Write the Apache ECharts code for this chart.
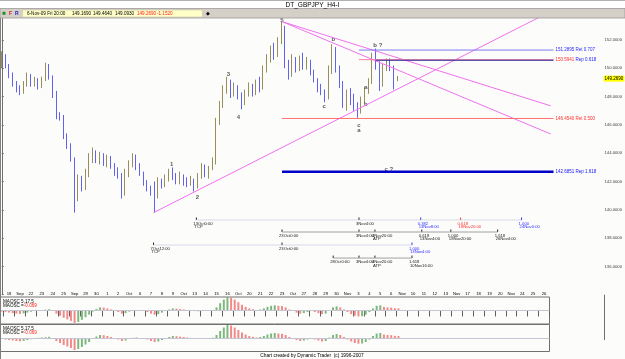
<!DOCTYPE html>
<html>
<head>
<meta charset="utf-8">
<title>DT_GBPJPY_H4-I</title>
<script src="https://cdn.jsdelivr.net/npm/echarts@6.0.0/dist/echarts.min.js"></script>
<style>
  html, body { margin: 0; padding: 0; background: #fcfdfb; }
  #chart { width: 625px; height: 359px; }
</style>
</head>
<body>
<div id="chart"></div>
<script>
// GBPJPY H4 bars (one slot = two 4h bars)
const barOpen = [
  150.3, 150.9, 150.2, 149.6, 149.0, 148.5, 148.3, 148.9, 149.4, 148.9,
  149.2, 148.8, 149.2, 150.1, 149.4, 148.3, 146.7, 146.6, 145.2, 144.5,
  143.6, 141.2, 142.0, 141.6, 142.5, 143.6, 144.0, 143.6, 143.9, 143.5,
  143.7, 143.2, 142.7, 142.5, 141.1, 142.6, 143.3, 143.7, 143.1, 142.6,
  142.0, 141.5, 141.2, 141.0, 141.9, 141.7, 142.2, 142.8, 142.4, 142.0,
  142.4, 142.0, 141.9, 142.1, 141.7, 142.4, 143.0, 142.6, 142.9, 143.3,
  146.3, 147.4, 148.5, 149.0, 148.3, 148.7, 148.1, 147.5, 148.2, 148.7,
  148.3, 148.8, 148.6, 149.9, 150.6, 151.3, 150.9, 151.9, 152.9, 150.3,
  149.5, 150.6, 150.0, 150.5, 150.2, 150.5, 149.8, 149.2, 148.6, 148.4,
  147.9, 149.8, 151.3, 150.0, 149.0, 147.6, 148.2, 147.8, 147.3, 146.9,
  147.7, 148.4, 149.0, 150.8, 150.3, 148.8, 150.0, 150.4, 150.1, 149.169
];
const barClose = [
  151.0, 150.2, 149.6, 149.0, 148.5, 148.3, 148.9, 149.4, 148.9, 149.2,
  148.8, 149.2, 150.1, 149.4, 148.3, 146.7, 146.6, 145.2, 144.5, 143.6,
  141.2, 142.0, 141.6, 142.5, 143.6, 144.0, 143.6, 143.9, 143.5, 143.7,
  143.2, 142.7, 142.5, 141.1, 142.6, 143.3, 143.7, 143.1, 142.6, 142.0,
  141.5, 141.2, 141.0, 141.9, 141.7, 142.2, 142.8, 142.4, 142.0, 142.4,
  142.0, 141.9, 142.1, 141.7, 142.4, 143.0, 142.6, 142.9, 143.3, 146.3,
  147.4, 148.5, 149.0, 148.3, 148.7, 148.1, 147.5, 148.2, 148.7, 148.3,
  148.8, 148.6, 149.9, 150.6, 151.3, 150.9, 151.9, 152.9, 150.3, 149.5,
  150.6, 150.0, 150.5, 150.2, 150.5, 149.8, 149.2, 148.6, 148.4, 147.9,
  149.8, 151.3, 150.0, 149.0, 147.6, 148.2, 147.8, 147.3, 146.9, 147.7,
  148.4, 149.0, 150.8, 150.3, 148.8, 150.0, 150.4, 150.1, 148.9, 149.269
];
const barLow = [
  150.0, 150.0, 149.3, 148.7, 148.3, 148.1, 148.2, 148.7, 148.7, 148.7,
  148.5, 148.6, 149.1, 149.2, 147.9, 146.4, 146.3, 145.0, 144.3, 143.4,
  139.8, 140.6, 141.3, 141.4, 142.3, 143.3, 143.3, 143.2, 143.1, 143.0,
  142.9, 142.4, 142.2, 140.8, 141.0, 142.3, 143.0, 142.8, 142.4, 141.7,
  141.3, 141.0, 139.8, 140.8, 141.5, 141.6, 142.0, 142.1, 141.8, 141.8,
  141.7, 141.6, 141.7, 141.3, 141.5, 142.2, 142.3, 142.2, 142.8, 143.2,
  146.0, 147.2, 148.2, 147.9, 148.0, 147.8, 147.1, 147.4, 148.0, 148.0,
  148.1, 148.3, 148.5, 149.7, 150.4, 150.6, 150.8, 151.7, 150.0, 149.2,
  149.4, 149.7, 149.8, 149.9, 149.9, 149.5, 149.0, 148.3, 148.1, 147.6,
  147.8, 149.6, 149.7, 148.6, 147.2, 147.0, 147.4, 147.0, 146.5, 146.8,
  147.5, 148.2, 148.9, 149.9, 148.4, 148.7, 149.8, 149.8, 148.5, 149.093
];
const barHigh = [
  151.2, 151.0, 150.3, 149.7, 149.1, 148.8, 149.1, 149.7, 149.6, 149.4,
  149.3, 149.4, 150.4, 150.3, 149.5, 148.4, 146.9, 146.7, 145.4, 144.7,
  143.7, 142.5, 142.4, 142.9, 144.0, 144.4, 144.2, 144.1, 144.0, 143.9,
  143.8, 143.3, 143.0, 142.6, 142.9, 143.5, 144.0, 143.9, 143.3, 142.7,
  142.1, 141.7, 142.0, 142.3, 142.2, 142.5, 142.9, 143.0, 142.6, 142.7,
  142.5, 142.3, 142.4, 142.2, 142.6, 143.3, 143.2, 143.1, 143.7, 146.5,
  147.7, 148.8, 149.4, 149.2, 149.0, 148.8, 148.3, 148.5, 149.0, 148.9,
  149.2, 149.4, 150.2, 151.0, 151.6, 151.8, 152.2, 153.3, 153.0, 150.6,
  151.0, 150.8, 150.9, 151.1, 150.8, 150.6, 149.9, 149.3, 148.9, 148.5,
  150.2, 151.7, 151.5, 150.2, 149.1, 148.5, 148.6, 148.2, 147.6, 148.0,
  148.7, 149.3, 151.1, 151.4, 150.5, 150.3, 150.7, 150.7, 150.2, 149.464
];

// MAOSC 5,17,5 histogram, same slots as the bars
const maosc = [
  -0.10, -0.15, -0.20, -0.25, -0.30, -0.33, -0.28, -0.20, -0.12, -0.05,
  0.02, 0.05, 0.08, 0.12, 0.00, -0.30, -0.50, -0.70, -0.85, -1.00,
  -1.20, -1.10, -0.90, -0.65, -0.40, -0.10, 0.15, 0.30, 0.28, 0.20,
  0.10, 0.00, -0.15, -0.30, -0.25, -0.10, 0.02, 0.05, 0.00, -0.05,
  -0.15, -0.30, -0.40, -0.35, -0.20, -0.05, 0.10, 0.20, 0.18, 0.14,
  0.10, 0.05, -0.03, -0.06, -0.08, -0.05, -0.02, 0.00, 0.03, 0.30,
  0.70, 1.05, 1.30, 1.25, 1.05, 0.80, 0.55, 0.35, 0.20, 0.12,
  0.05, 0.10, 0.20, 0.35, 0.45, 0.50, 0.45, 0.42, 0.30, 0.10,
  -0.05, -0.20, -0.30, -0.25, -0.15, -0.05, -0.15, -0.25, -0.35, -0.30,
  0.05, 0.30, 0.40, 0.30, 0.10, -0.15, -0.35, -0.50, -0.57, -0.55,
  -0.40, -0.15, 0.20, 0.45, 0.50, 0.35, 0.30, 0.28, 0.22, 0.20
];

// one label per trading day on the lower time scale
const dateLabels = [
  '18', 'Sep', '22', '23', '24', '25', 'Sep', '29', '30', '1', '2',
  'Oct', '6', '7', '8', '9', 'Oct', '13', '14', '15', '16',
  'Oct', '20', '21', '22', '23', 'Oct', '27', '28', '29', '30',
  'Nov', '3', '4', '5', '6', 'Nov', '10', '11', '12', '13',
  'Nov', '17', '18', '19', '20', 'Nov', '24', '25', '26'
];

// trend lines: [slot, price] end points
const trendLines = [
  [[41.8, 139.8], [148.8, 153.7]],
  [[77.2, 153.3], [151.2, 147.35]],
  [[77.2, 153.3], [151.2, 145.36]]
];

// retracement / reaction levels
const levelPrices = [151.2895, 150.61, 150.57, 146.454, 142.6851];
const levelFrom = [98.4, 98.4, 103, 77.2, 77.2];
const levelTo = 152;
const levelTexts = ['151.2895 Ret 0.707', '', '{r|150.5941} {b|Rep 0.618}', '146.4540 Ret 0.500', '142.6851 Rep 1.618'];

// wave count labels
const waveText = ['5', '3', '4', '1', '2', 'b', 'c', 'c', 'a', 'a', 'b', 'b ?', 'c ?'];
const waveAt = [77.2, 62.4, 65.2, 46.8, 53.9, 91.3, 88.8, 98.4, 98.4, 100.3, 100.3, 103.6, 106.6];
const wavePrice = [153.42, 149.6, 146.56, 143.24, 140.9, 152.05, 147.29, 145.99, 145.59, 148.66, 147.48, 151.62, 142.85];

// time rulers under the bars
const rulerLevels = [139.28, 138.43, 137.51, 136.59];
const rulerSpans = [[53.6, 143.2], [77.2, 136.6], [41.8, 113.0], [91.3, 113.0]];
const rulerTicks = [
  [0, 53.6, '13Oct0:00', 'TCP', 'k'],
  [0, 98.4, '3Nov4:00', '', 'k'],
  [0, 115.4, '0.382', '13Nov8:00', 'b'],
  [0, 126.4, '0.618', '18Nov20:00', 'r'],
  [0, 143.2, '1.000', '24Nov0:00', 'b'],
  [1, 77.2, '23Oct0:00', '', 'k'],
  [1, 98.4, '3Nov4:00', '', 'k'],
  [1, 102.8, '4Nov20:00', 'ATP', 'k'],
  [1, 115.7, '0.618', '13Nov4:00', 'k'],
  [1, 123.7, '1.000', '18Nov20:00', 'k'],
  [1, 136.6, '1.618', '26Nov4:00', 'k'],
  [2, 41.8, '7Oct12:00', 'TCP', 'k'],
  [2, 77.2, '23Oct0:00', '', 'k'],
  [2, 113.0, '1.000', '13Nov4:00', 'b'],
  [3, 91.3, '28Oct0:00', '', 'k'],
  [3, 98.4, '3Nov4:00', '', 'k'],
  [3, 102.8, '4Nov20:00', 'ATP', 'k'],
  [3, 113.0, '1.618', '10Nov16:00', 'k']
];

const lastBar = {
  date: '6-Nov-09 Fri 20:00', open: '149.1690', high: '149.4640',
  low: '149.0930', close: '149.2690', change: '-1.1520'
};

const N_MAIN = 166;
const N_LOW = 151;
const FONT = '"Liberation Sans", Arial, sans-serif';

const tickColors = { k: '#202020', b: '#3030ff', r: '#ff3030' };
const levelStyles = [
  { color: '#7b7bf5', width: 1, label: '#2a2aff' },
  { color: '#ff7aa8', width: 1, label: '#ff3030' },
  { color: '#26268c', width: 1.2, label: '#2020ff' },
  { color: '#ff7070', width: 1, label: '#ff3030' },
  { color: '#0000c8', width: 2.5, label: '#1010ff' }
];
const rulerStyles = [
  { color: '#b4b4d4', type: 'dotted' },
  { color: '#a0a0a0', type: 'solid' },
  { color: '#b4b4d4', type: 'dotted' },
  { color: '#a0a0a0', type: 'solid' }
];

const chart = echarts.init(document.getElementById('chart'));

const mainCats = Array.from({ length: N_MAIN }, (_, i) => String(i));
const lowCats = Array.from({ length: N_LOW }, (_, i) => String(i));

const candles = barOpen.map((o, i) => [o, barClose[i], barLow[i], barHigh[i]]);

const histData = maosc.map((v, i) => ({
  value: v,
  itemStyle: { color: (i > 0 && v >= maosc[i - 1]) ? '#7fb87f' : '#f28a8a' }
}));

const series = [];

series.push({
  type: 'candlestick',
  xAxisIndex: 0, yAxisIndex: 0,
  data: candles,
  barWidth: 1.3,
  itemStyle: {
    color: '#cfc89c', borderColor: '#978f5b',
    color0: '#b0b0ff', borderColor0: '#6262f0',
    borderWidth: 1
  }
});

// current price tag on the price scale
series.push({
  type: 'line', xAxisIndex: 1, yAxisIndex: 0,
  data: [[N_MAIN - 0.5, Number(lastBar.close)]],
  symbol: 'none', silent: true,
  lineStyle: { opacity: 0 },
  endLabel: {
    show: true, formatter: lastBar.close, distance: 1,
    backgroundColor: '#ffff00', color: '#000', fontSize: 4.5,
    fontFamily: FONT, padding: [1, 1, 0, 1]
  }
});

trendLines.forEach(tl => {
  series.push({
    type: 'line', xAxisIndex: 1, yAxisIndex: 0,
    data: tl, symbol: 'none', silent: true,
    lineStyle: { color: '#f070f0', width: 1 }
  });
});

levelPrices.forEach((p, k) => {
  const st = levelStyles[k];
  series.push({
    type: 'line', xAxisIndex: 1, yAxisIndex: 0,
    data: [[levelFrom[k], p], [levelTo, p]],
    symbol: 'none', silent: true,
    lineStyle: { color: st.color, width: st.width },
    endLabel: {
      show: levelTexts[k] !== '',
      formatter: levelTexts[k],
      distance: 2,
      color: st.label, fontSize: 4.5, fontFamily: FONT,
      rich: {
        r: { color: '#ff3030', fontSize: 4.5, fontFamily: FONT },
        b: { color: '#2020ff', fontSize: 4.5, fontFamily: FONT }
      }
    }
  });
});

rulerLevels.forEach((lv, k) => {
  series.push({
    type: 'line', xAxisIndex: 1, yAxisIndex: 0,
    data: [[rulerSpans[k][0], lv], [rulerSpans[k][1], lv]],
    symbol: 'none', silent: true,
    lineStyle: { color: rulerStyles[k].color, width: 1, type: rulerStyles[k].type }
  });
});

series.push({
  type: 'custom', xAxisIndex: 1, yAxisIndex: 0,
  silent: true,
  data: rulerTicks.map((t, k) => [t[1], rulerLevels[t[0]], k]),
  encode: { x: 0, y: 1 },
  renderItem: function (params, api) {
    const t = rulerTicks[api.value(2)];
    const p = api.coord([t[1], rulerLevels[t[0]]]);
    const c = tickColors[t[4]];
    const font = '4.2px ' + FONT;
    return {
      type: 'group',
      children: [
        { type: 'line', shape: { x1: p[0], y1: p[1] - 2.5, x2: p[0], y2: p[1] }, style: { stroke: c, lineWidth: 1 } },
        { type: 'text', x: p[0] - 3, y: p[1] + 1.6, style: { text: t[2], fill: c, font: font, align: 'left', verticalAlign: 'top' } },
        { type: 'text', x: p[0] - 2, y: p[1] + 5.3, style: { text: t[3], fill: c, font: font, align: 'left', verticalAlign: 'top' } }
      ]
    };
  }
});

series.push({
  type: 'scatter', xAxisIndex: 1, yAxisIndex: 0,
  silent: true,
  symbolSize: 0.1,
  itemStyle: { color: 'rgba(0,0,0,0)' },
  data: waveText.map((s, k) => ({ name: s, value: [waveAt[k], wavePrice[k]] })),
  label: {
    show: true, position: 'inside', formatter: '{b}',
    color: '#303030', fontSize: 6, fontWeight: 'bold', fontFamily: FONT
  }
});

[0, 1].forEach(k => {
  series.push({
    type: 'bar', xAxisIndex: 2 + k, yAxisIndex: 1 + k,
    data: histData, barWidth: 2, silent: true,
    markLine: {
      silent: true, symbol: ['none', 'none'],
      label: { show: false },
      lineStyle: { color: '#c4c4d4', width: 1, type: 'solid' },
      data: [{ yAxis: 0 }]
    }
  });
});

const toolbarText = (x, text, color) => ({
  type: 'text', z: 102, x: x, y: 13.4,
  style: { text: text, fill: color, font: '4.6px ' + FONT, align: 'left', verticalAlign: 'middle' }
});

const maoscLabel = (y) => ([
  { type: 'text', z: 50, x: 3, y: y, style: { text: 'MAOSC 5,17,5', fill: '#000', font: '4.6px ' + FONT, verticalAlign: 'middle' } },
  {
    type: 'text', z: 50, x: 3, y: y + 4.2,
    style: {
      text: '{k|MAOSC =}{r|-0.069}', verticalAlign: 'middle', font: '4.6px ' + FONT,
      rich: { k: { fill: '#000', font: '4.6px ' + FONT }, r: { fill: '#ff2020', font: '4.6px ' + FONT } }
    }
  }
]);

const option = {
  animation: false,
  backgroundColor: '#fcfdfb',
  textStyle: { fontFamily: FONT },
  grid: [
    { left: 0, top: 11.7, width: 604, height: 283 },
    { left: 0, top: 297, width: 549.5, height: 27, show: true, borderColor: '#707070', borderWidth: 1, backgroundColor: '#fcfdfb' },
    { left: 0, top: 324.5, width: 549.5, height: 27, show: true, borderColor: '#707070', borderWidth: 1, backgroundColor: '#fcfdfb' }
  ],
  xAxis: [
    { type: 'category', gridIndex: 0, data: mainCats, show: false, boundaryGap: true },
    { type: 'value', gridIndex: 0, min: -0.5, max: N_MAIN - 0.5, show: false },
    {
      type: 'category', gridIndex: 1, data: lowCats, position: 'top', offset: 6.5,
      axisLine: { show: true, lineStyle: { color: '#404040', width: 1 } },
      axisTick: { show: true, inside: true, length: 6, interval: (i) => i % 3 === 1, lineStyle: { color: '#606060' } },
      axisLabel: {
        show: true, inside: true, margin: 1.5, interval: (i) => i % 3 === 2,
        formatter: (v, i) => dateLabels[(i - 2) / 3] || '',
        fontSize: 4.2, color: '#000', fontFamily: FONT
      },
      splitLine: { show: false }
    },
    { type: 'category', gridIndex: 2, data: lowCats, show: false }
  ],
  yAxis: [
    {
      type: 'value', gridIndex: 0, position: 'right', min: 134, max: 154, interval: 2,
      axisLine: { show: true, lineStyle: { color: '#707070' } },
      axisTick: { show: true, length: 2, lineStyle: { color: '#707070' } },
      axisLabel: {
        margin: 2, fontSize: 4.2, color: '#404040', fontFamily: FONT,
        formatter: (v) => (v < 135 || v > 153) ? '' : v.toFixed(4)
      },
      splitLine: { show: false }
    },
    { type: 'value', gridIndex: 1, min: -1.3, max: 1.3, show: false },
    { type: 'value', gridIndex: 2, min: -1.35, max: 1.35, show: false }
  ],
  series: series,
  graphic: [
    { type: 'rect', z: 100, shape: { x: 0, y: 0, width: 625, height: 8.5 }, style: { fill: '#ffffff' } },
    { type: 'line', z: 101, shape: { x1: 0, y1: 0.5, x2: 625, y2: 0.5 }, style: { stroke: '#b0b0b0', lineWidth: 1 } },
    { type: 'text', z: 101, x: 312.5, y: 4.8, style: { text: 'DT_GBPJPY_H4-I', fill: '#000', font: '6.5px ' + FONT, align: 'center', verticalAlign: 'middle' } },
    { type: 'rect', z: 100, shape: { x: 0, y: 8.5, width: 625, height: 9.5 }, style: { fill: '#d4d0c8', stroke: '#9a9a9a', lineWidth: 0.8 } },
    { type: 'rect', z: 101, shape: { x: 2.5, y: 11.8, width: 3, height: 3 }, style: { fill: '#2a8a2a' } },
    { type: 'text', z: 101, x: 10.5, y: 13.4, style: { text: 'F', fill: '#d02020', font: 'bold 5px ' + FONT, align: 'center', verticalAlign: 'middle' } },
    { type: 'text', z: 101, x: 16.8, y: 13.4, style: { text: 'R', fill: '#2020c0', font: 'bold 5px ' + FONT, align: 'center', verticalAlign: 'middle' } },
    { type: 'rect', z: 101, shape: { x: 22.5, y: 10, width: 180, height: 7 }, style: { fill: '#ffffc8', stroke: '#c8c8a8', lineWidth: 0.6 } },
    toolbarText(27, lastBar.date, '#000'),
    toolbarText(72, lastBar.open, '#000'),
    toolbarText(93, lastBar.high, '#000'),
    toolbarText(115, lastBar.low, '#000'),
    toolbarText(137, lastBar.close, '#ff2020'),
    toolbarText(157, lastBar.change, '#ff2020'),
    { type: 'text', z: 101, x: 208, y: 13.4, style: { text: '\u25C6', fill: '#000', font: '5px "DejaVu Sans"', align: 'center', verticalAlign: 'middle' } },
    { type: 'line', z: 60, shape: { x1: 0.5, y1: 8.5, x2: 0.5, y2: 359 }, style: { stroke: '#808080', lineWidth: 1 } },
    { type: 'line', z: 60, shape: { x1: 604.5, y1: 294.7, x2: 604.5, y2: 340 }, style: { stroke: '#707070', lineWidth: 1 } },
    ...maoscLabel(301.7),
    ...maoscLabel(329),
    { type: 'text', z: 50, x: 312, y: 355.6, style: { text: 'Chart created by Dynamic Trader  (c) 1996-2007', fill: '#000', font: '4.8px ' + FONT, align: 'center', verticalAlign: 'middle' } }
  ]
};

chart.setOption(option);
window.addEventListener('resize', () => chart.resize());
</script>
</body>
</html>
